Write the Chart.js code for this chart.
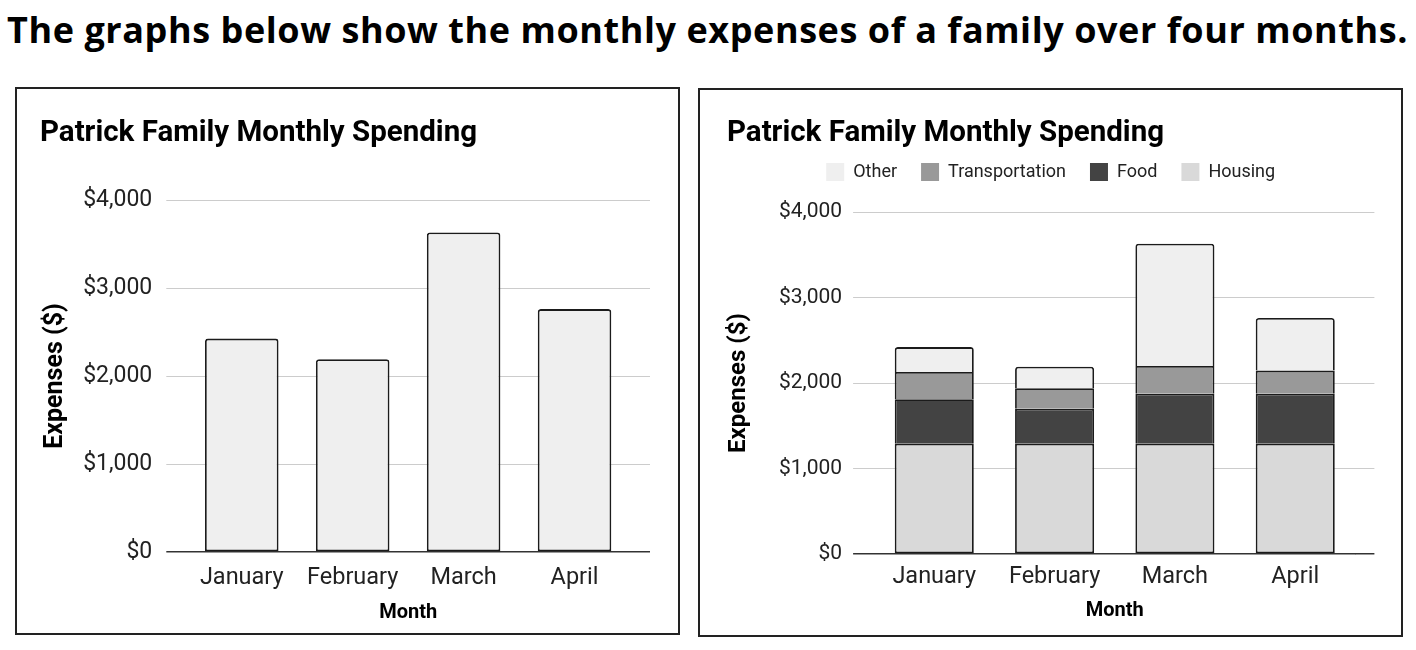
<!DOCTYPE html>
<html>
<head>
<meta charset="utf-8">
<script src="https://cdn.jsdelivr.net/npm/chart.js@4.4.1/dist/chart.umd.min.js"></script>
<style>
html,body{margin:0;padding:0;background:#fff;width:1416px;height:650px;overflow:hidden;}
#hdr{position:absolute;left:7px;top:0;font-family:"Open Sans","DejaVu Sans",sans-serif;font-weight:700;white-space:nowrap;color:#000;line-height:1;font-size:36px;}
.box{position:absolute;border:2px solid #222;box-sizing:border-box;background:#fff;}
.box canvas{position:absolute;left:0;top:0;}
</style>
</head>
<body>
<div id="hdr"><span id="hdrText">The graphs below show the monthly expenses of a family over four months.</span><span id="bl" style="display:inline-block;width:0;height:0;"></span></div>
<div class="box" style="left:15px;top:87px;width:665px;height:548px;"><canvas id="c1" width="661" height="544"></canvas></div>
<div class="box" style="left:698px;top:88px;width:705px;height:549px;"><canvas id="c2" width="701" height="545"></canvas></div>
<script>
// ---- data ----
const months = ['January', 'February', 'March', 'April'];
const totals = [2425, 2190, 3630, 2760];
const housing = [1290, 1290, 1290, 1290];
const food = [520, 410, 585, 585];
const transportation = [320, 240, 325, 270];
const other = [290, 250, 1430, 615];
const yTickLabels = ['$0', '$1,000', '$2,000', '$3,000', '$4,000'];
const chartTitle = 'Patrick Family Monthly Spending';
const xTitle = 'Month';
const yTitle = 'Expenses ($)';

// ---- header fit: width 1401px, baseline at y=43 ----
(function(){
  const h = document.getElementById('hdr');
  const t = document.getElementById('hdrText');
  const n = t.textContent.length;
  let w = t.getBoundingClientRect().width;
  let size = Math.min(36 * 1401 / w, 36);
  h.style.fontSize = size + 'px';
  w = t.getBoundingClientRect().width;
  t.style.letterSpacing = Math.max(0, (1401 - w) / n) + 'px';
  const base = document.getElementById('bl').getBoundingClientRect().top;
  h.style.top = (43 - base) + 'px';
})();

const FONT = 'Roboto';
const gridColor = ctx => (ctx.tick && ctx.tick.value === 0) ? '#333' : '#cccccc';
const gridWidth = ctx => (ctx.tick && ctx.tick.value === 0) ? 1.5 : 1;
const BORDER = '#1b1b1b';
const BW = 1.8;

function yAxis(width, tickLen, tickPad, tickSize, titleSize, titlePadTop) {
  return {
    min: 0, max: 4000,
    ticks: { stepSize: 1000, callback: (v, i) => yTickLabels[i], font: { family: FONT, size: tickSize }, color: '#222', padding: tickPad },
    grid: { color: gridColor, tickColor: gridColor, lineWidth: gridWidth, tickWidth: gridWidth, tickLength: tickLen, drawTicks: true },
    border: { display: false },
    title: { display: true, text: yTitle, color: '#000', font: { family: FONT, size: titleSize, weight: 'bold', lineHeight: 24 / titleSize }, padding: { top: titlePadTop, bottom: 0 } },
    afterFit: s => { s.width = width; }
  };
}
function y2Axis(width, tickLen) {
  return {
    position: 'right', min: 0, max: 4000,
    ticks: { display: false, stepSize: 1000 },
    grid: { drawOnChartArea: false, drawTicks: true, tickLength: tickLen, color: gridColor, tickColor: gridColor, lineWidth: gridWidth, tickWidth: gridWidth },
    border: { display: false },
    afterFit: s => { s.width = width; }
  };
}
function xAxis(tickPad, tickSize, titlePadBottom) {
  return {
    stacked: true,
    grid: { display: false, drawTicks: false },
    border: { display: false },
    ticks: { font: { family: FONT, size: tickSize }, color: '#222', padding: tickPad },
    title: { display: true, text: xTitle, color: '#000', font: { family: FONT, size: 20, weight: 'bold' }, padding: { top: 0, bottom: titlePadBottom } },
    afterFit: s => { s.height = 75; }
  };
}

// ---- left chart ----
new Chart(document.getElementById('c1'), {
  type: 'bar',
  data: {
    labels: months,
    datasets: [{
      label: 'Total', data: totals,
      backgroundColor: '#efefef', borderColor: BORDER, borderWidth: BW, borderSkipped: false,
      borderRadius: { topLeft: 3, topRight: 3, bottomLeft: 0, bottomRight: 0 },
      categoryPercentage: 1, barPercentage: 0.663
    }]
  },
  options: {
    responsive: false, animation: false,
    layout: { padding: { left: 23, right: 28, top: 0, bottom: 6 } },
    plugins: {
      legend: { display: false }, tooltip: { enabled: false },
      title: { display: true, text: chartTitle, align: 'start', color: '#000',
        font: { family: FONT, size: 29.5, weight: 'bold', lineHeight: 1.2 }, padding: { top: 27.3, bottom: 48.3 } }
    },
    scales: {
      x: xAxis(12.3, 23.5, 2.5),
      y: yAxis(146.3, 20, 14, 23, 25, 4),
      y2: y2Axis(20, 20)
    }
  }
});

// ---- right chart ----
const segStyle = { borderColor: BORDER, borderWidth: BW, categoryPercentage: 1, barPercentage: 0.657 };
new Chart(document.getElementById('c2'), {
  type: 'bar',
  data: {
    labels: months,
    datasets: [
      Object.assign({ label: 'Housing', data: housing, backgroundColor: '#d9d9d9', borderSkipped: false }, segStyle),
      Object.assign({ label: 'Food', data: food, backgroundColor: '#434343', borderSkipped: 'start' }, segStyle),
      Object.assign({ label: 'Transportation', data: transportation, backgroundColor: '#999999', borderSkipped: 'start' }, segStyle),
      Object.assign({ label: 'Other', data: other, backgroundColor: '#efefef', borderSkipped: 'start',
        borderRadius: { topLeft: 3, topRight: 3, bottomLeft: 0, bottomRight: 0 } }, segStyle)
    ]
  },
  options: {
    responsive: false, animation: false,
    layout: { padding: { left: 27, right: 26.6, top: 0, bottom: 6 } },
    plugins: {
      tooltip: { enabled: false },
      title: { display: true, text: chartTitle, align: 'start', color: '#000',
        font: { family: FONT, size: 29.5, weight: 'bold', lineHeight: 11 / 29.5 }, padding: { top: 38, bottom: 0 } },
      legend: {
        display: true, position: 'top', reverse: true,
        labels: {
          boxWidth: 18, boxHeight: 18, padding: 24, color: '#222',
          font: { family: FONT, size: 18 },
          generateLabels: ch => Chart.defaults.plugins.legend.labels.generateLabels(ch)
            .map(l => Object.assign({}, l, { lineWidth: 0, strokeStyle: 'rgba(0,0,0,0)' }))
        }
      }
    },
    scales: {
      x: xAxis(9, 23.5, 6),
      xt: { type: 'linear', position: 'top', min: 0, max: 1, display: true,
        grid: { display: false, drawTicks: false }, ticks: { display: false }, border: { display: false },
        afterFit: s => { s.height = 21; } },
      y: Object.assign(yAxis(147.1, 21, 11, 21, 24, 0), { stacked: true }),
      y2: y2Axis(19, 19)
    }
  }
});
</script>
</body>
</html>
